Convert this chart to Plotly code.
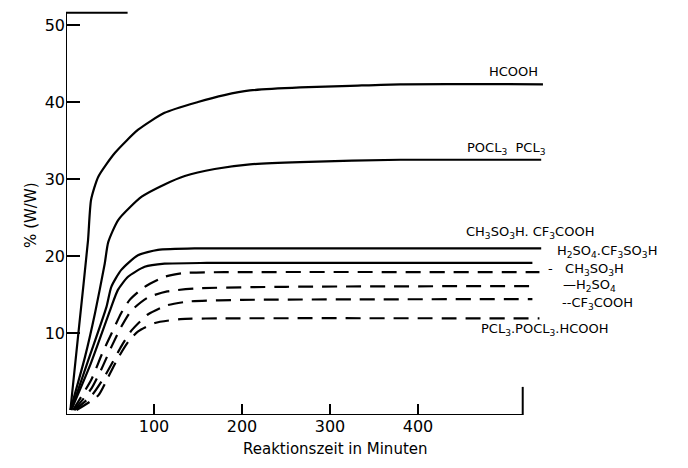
import plotly.graph_objects as go

# ---- data ----
hcooh_x = [5, 15, 25, 28.5, 36.7, 55.7, 82, 112, 150, 180, 209, 266, 323, 380, 542]
hcooh_y = [0, 11, 22, 27.3, 30.3, 33.4, 36.4, 38.6, 40.0, 40.9, 41.5, 41.9, 42.1, 42.3, 42.3]

pocl_x = [5, 21.6, 33, 44, 48, 59.5, 86, 112, 135, 169, 209, 266, 380, 540]
pocl_y = [0, 6.9, 12.6, 19.0, 21.8, 24.7, 27.7, 29.3, 30.4, 31.3, 31.9, 32.2, 32.5, 32.5]

ms_tfa_x = [6, 26, 46, 51.5, 62.8, 81.8, 104.5, 150, 540]
ms_tfa_y = [0, 6.7, 13.4, 16.0, 18.2, 20.1, 20.8, 21.0, 21.0]

h2so4_tf_x = [6, 28, 51.5, 59, 70.5, 89.4, 112, 160, 530]
h2so4_tf_y = [0, 6.0, 13.4, 15.6, 17.3, 18.6, 19.0, 19.1, 19.1]

ms_x = [8, 29, 40.6, 52, 62.8, 72.4, 89.4, 112, 135, 180, 538]
ms_y = [0, 4.0, 7.2, 10.0, 12.6, 14.3, 16.0, 17.3, 17.8, 17.9, 17.9]

h2so4_x = [9, 29, 40.6, 52, 62.8, 74.2, 93, 115, 150, 250, 535]
h2so4_y = [0, 2.8, 5.4, 8.3, 10.8, 12.9, 14.6, 15.4, 15.8, 16.0, 16.1]

tfa_x = [10, 30, 42, 52, 63, 75, 93, 115, 140, 200, 530]
tfa_y = [0, 2.0, 4.0, 6.0, 8.3, 10.4, 12.4, 13.6, 14.1, 14.3, 14.4]

pcl_mix_x = [12, 36.7, 48, 59.4, 71, 82, 101, 130, 180, 538]
pcl_mix_y = [0, 1.9, 4.3, 6.8, 8.9, 10.2, 11.3, 11.8, 11.9, 11.9]

x_ticks = [100, 200, 300, 400]
y_ticks = [10, 20, 30, 40, 50]

FONT = "DejaVu Sans"

fig = go.Figure()

solid = [(hcooh_x, hcooh_y, "HCOOH"),
         (pocl_x, pocl_y, "POCl3 PCl3"),
         (ms_tfa_x, ms_tfa_y, "CH3SO3H, CF3COOH"),
         (h2so4_tf_x, h2so4_tf_y, "H2SO4, CF3SO3H")]
dashed = [(ms_x, ms_y, "CH3SO3H"),
          (h2so4_x, h2so4_y, "H2SO4"),
          (tfa_x, tfa_y, "CF3COOH"),
          (pcl_mix_x, pcl_mix_y, "PCl3, POCl3, HCOOH")]

for xs, ys, nm in solid:
    fig.add_trace(go.Scatter(x=xs, y=ys, mode="lines", name=nm,
                             line=dict(color="black", width=2.2, shape="spline", smoothing=0.6),
                             showlegend=False, hoverinfo="skip"))
for xs, ys, nm in dashed:
    fig.add_trace(go.Scatter(x=xs, y=ys, mode="lines", name=nm,
                             line=dict(color="black", width=2.2, dash="15px,9px",
                                       shape="spline", smoothing=0.6),
                             showlegend=False, hoverinfo="skip"))

# axis frame pieces
y_bottom = -0.65
y_top = 51.6
x_right = 519
line_style = dict(color="black", width=2)
fig.add_shape(type="line", x0=0, x1=0, y0=y_bottom, y1=y_top, line=line_style)
fig.add_shape(type="line", x0=0, x1=70, y0=y_top, y1=y_top, line=line_style)
fig.add_shape(type="line", x0=0, x1=x_right, y0=y_bottom, y1=y_bottom, line=line_style)
fig.add_shape(type="line", x0=x_right, x1=x_right, y0=y_bottom, y1=3.0, line=line_style)

ann_font = dict(family=FONT, size=13, color="black")
labels = [
    (508, 44.0, "HCOOH", "center"),
    (501, 34.0, "POCL<sub>3</sub>  PCL<sub>3</sub>", "center"),
    (527, 23.1, "CH<sub>3</sub>SO<sub>3</sub>H. CF<sub>3</sub>COOH", "center"),
    (556, 20.6, "H<sub>2</sub>SO<sub>4</sub>.CF<sub>3</sub>SO<sub>3</sub>H", "left"),
    (545, 18.2, "-   CH<sub>3</sub>SO<sub>3</sub>H", "left"),
    (563, 16.15, "—H<sub>2</sub>SO<sub>4</sub>", "left"),
    (561, 13.85, "--CF<sub>3</sub>COOH", "left"),
    (544, 10.5, "PCL<sub>3</sub>.POCL<sub>3</sub>.HCOOH", "center"),
]
for x, y, t, anc in labels:
    fig.add_annotation(x=x, y=y, xref="x", yref="y", text=t, showarrow=False,
                       xanchor=anc, yanchor="middle", font=ann_font)

fig.add_annotation(x=-0.075, y=0.494, xref="paper", yref="paper", text="% (W/W)",
                   textangle=-90, showarrow=False, font=dict(family=FONT, size=15, color="black"))
fig.add_annotation(x=0.285, y=-0.111, xref="paper", yref="paper",
                   text="Reaktionszeit in Minuten", showarrow=False,
                   font=dict(family=FONT, size=15, color="black"))

fig.update_layout(
    width=688, height=468,
    margin=dict(l=66, r=8, t=10, b=53),
    paper_bgcolor="white", plot_bgcolor="white",
    showlegend=False,
)
fig.update_xaxes(range=[0, 614 / 0.88], tickvals=x_ticks, ticktext=[str(v) for v in x_ticks],
                 ticks="inside", ticklen=11, tickwidth=1.5, tickcolor="black",
                 showgrid=False, zeroline=False, showline=False,
                 tickfont=dict(family=FONT, size=16, color="black"))
fig.update_yaxes(range=[y_bottom, 51.95], tickvals=y_ticks, ticktext=[str(v) for v in y_ticks],
                 ticks="inside", ticklen=14, tickwidth=1.5, tickcolor="black",
                 showgrid=False, zeroline=False, showline=False,
                 tickfont=dict(family=FONT, size=16, color="black"))

fig.write_html("out.html")
